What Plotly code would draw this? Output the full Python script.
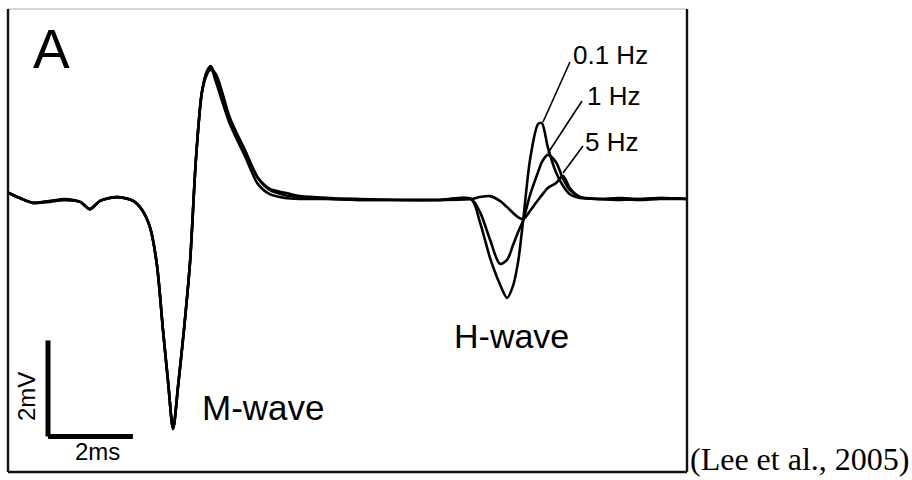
import plotly.graph_objects as go

# Time base (ms) shared by the three recordings
t_ms = [0.00, 0.28, 0.59, 0.99, 1.34, 1.70, 1.93, 2.17, 2.57, 2.95,
        3.16, 3.35, 3.51, 3.65, 3.77, 3.89, 4.01, 4.15, 4.29, 4.43,
        4.57, 4.69, 4.78, 4.90, 5.23, 5.58, 5.89, 6.17, 6.53, 6.88,
        7.59, 8.29, 9.24, 10.18, 10.91, 11.12, 11.36, 11.59, 11.76, 11.90,
        12.02, 12.14, 12.30, 12.49, 12.58, 12.72, 12.91, 13.08, 13.24, 13.48,
        13.95, 14.42, 14.89, 15.36, 16.00]

# EMG amplitude (mV) at each stimulation frequency
v_01hz = [0.13, 0.02, -0.08, -0.04, -0.02, -0.06, -0.21, -0.04, 0.04, -0.04,
          -0.23, -0.60, -1.38, -2.71, -3.79, -4.79, -3.88, -2.69, -1.31, 0.85,
          2.23, 2.67, 2.77, 2.52, 1.65, 1.02, 0.44, 0.19, 0.08, 0.04,
          0.00, -0.02, -0.02, -0.02, 0.00, -0.48, -1.23, -1.77, -2.06, -1.81,
          -1.31, -0.44, 0.81, 1.56, 1.58, 1.08, 0.56, 0.27, 0.10, 0.02,
          0.00, 0.00, -0.02, 0.00, 0.00]
v_1hz = [0.13, 0.02, -0.08, -0.06, -0.02, -0.06, -0.21, -0.04, 0.04, -0.04,
         -0.23, -0.60, -1.38, -2.71, -3.79, -4.79, -3.88, -2.69, -1.31, 0.85,
         2.23, 2.60, 2.73, 2.44, 1.56, 0.90, 0.31, 0.10, 0.02, 0.00,
         0.00, -0.02, -0.02, -0.02, 0.00, -0.27, -0.85, -1.35, -1.27, -0.96,
         -0.69, -0.44, 0.08, 0.56, 0.77, 0.92, 0.77, 0.42, 0.19, 0.04,
         0.00, -0.02, 0.00, 0.02, 0.00]
v_5hz = [0.13, 0.02, -0.08, -0.04, 0.00, -0.06, -0.21, -0.04, 0.04, -0.04,
         -0.23, -0.60, -1.38, -2.71, -3.79, -4.79, -3.88, -2.69, -1.31, 0.85,
         2.23, 2.63, 2.69, 2.60, 1.69, 1.02, 0.44, 0.21, 0.13, 0.06,
         0.02, 0.00, -0.02, -0.02, 0.00, 0.04, 0.06, -0.04, -0.17, -0.29,
         -0.38, -0.42, -0.25, -0.02, 0.08, 0.23, 0.33, 0.48, 0.23, 0.04,
         0.00, 0.02, 0.00, 0.02, 0.00]

series = [("0.1 Hz", v_01hz), ("1 Hz", v_1hz), ("5 Hz", v_5hz)]

# Calibration bar lengths
SCALE_MS = 2
SCALE_MV = 2

W, H = 912, 480
X0, X1, Y0, Y1 = 8, 687, 9, 472          # frame in pixels
X_RANGE = [0, 16]
Y_RANGE = [-5.6875, 3.9583]


def px(x):
    return x / W


def py(y):
    return 1 - y / H


def to_t(x):
    return X_RANGE[0] + (x - X0) / (X1 - X0) * (X_RANGE[1] - X_RANGE[0])


def to_v(y):
    return Y_RANGE[1] - (y - Y0) / (Y1 - Y0) * (Y_RANGE[1] - Y_RANGE[0])


fig = go.Figure()
for name, v in series:
    fig.add_trace(go.Scatter(
        x=t_ms, y=v, mode="lines", name=name,
        line=dict(color="black", width=2.6, shape="spline", smoothing=0.8),
        hoverinfo="skip", showlegend=False))

sans = "Liberation Sans, Arial, sans-serif"
shapes = []

# frame
shapes.append(dict(type="line", xref="paper", yref="paper",
                   x0=px(X0), x1=px(X1), y0=py(Y0), y1=py(Y0),
                   line=dict(color="#c8c8c8", width=1.5)))
for (xa, ya, xb, yb) in [(X0, Y0, X0, Y1), (X1, Y0, X1, Y1), (X0, Y1, X1, Y1)]:
    shapes.append(dict(type="line", xref="paper", yref="paper",
                       x0=px(xa), x1=px(xb), y0=py(ya), y1=py(yb),
                       line=dict(color="#111111", width=2.4)))

# calibration bar
bt, bv = to_t(48), to_v(436.5)
shapes.append(dict(type="line", xref="x", yref="y", x0=bt, x1=bt,
                   y0=bv, y1=bv + SCALE_MV, line=dict(color="black", width=5)))
shapes.append(dict(type="line", xref="x", yref="y", x0=bt, x1=bt + SCALE_MS,
                   y0=bv, y1=bv, line=dict(color="black", width=5)))

# leader lines from frequency labels to the H-wave peaks
for (xa, ya, xb, yb) in [(570, 62, 543, 122), (582, 101, 548, 153), (583, 146, 563, 173)]:
    shapes.append(dict(type="line", xref="x", yref="y",
                       x0=to_t(xa), y0=to_v(ya), x1=to_t(xb), y1=to_v(yb),
                       line=dict(color="black", width=1.6)))

annotations = []


def label(text, x, y, size, xanchor="left", family=sans, angle=0):
    annotations.append(dict(text=text, xref="paper", yref="paper",
                            x=px(x), y=py(y), xanchor=xanchor, yanchor="middle",
                            showarrow=False, textangle=angle,
                            font=dict(family=family, size=size, color="black")))


label("A", 31, 49, 55)
label("0.1 Hz", 571, 55, 26)
label("1 Hz", 585, 96, 26)
label("5 Hz", 583, 142, 26)
label("M-wave", 200, 407, 35)
label("H-wave", 452, 336, 34)
label("2ms", 97.5, 451, 24, xanchor="center")
label("2mV", 26.5, 396.5, 24, xanchor="center", angle=-90)
label("(Lee et al., 2005)", 688, 459, 32, family="Liberation Serif, Times New Roman, serif")

fig.update_layout(
    width=W, height=H,
    margin=dict(l=0, r=0, t=0, b=0),
    paper_bgcolor="white", plot_bgcolor="white",
    xaxis=dict(domain=[px(X0), px(X1)], range=X_RANGE, visible=False, fixedrange=True),
    yaxis=dict(domain=[py(Y1), py(Y0)], range=Y_RANGE, visible=False, fixedrange=True),
    shapes=shapes, annotations=annotations,
)

fig.write_html("out.html")
